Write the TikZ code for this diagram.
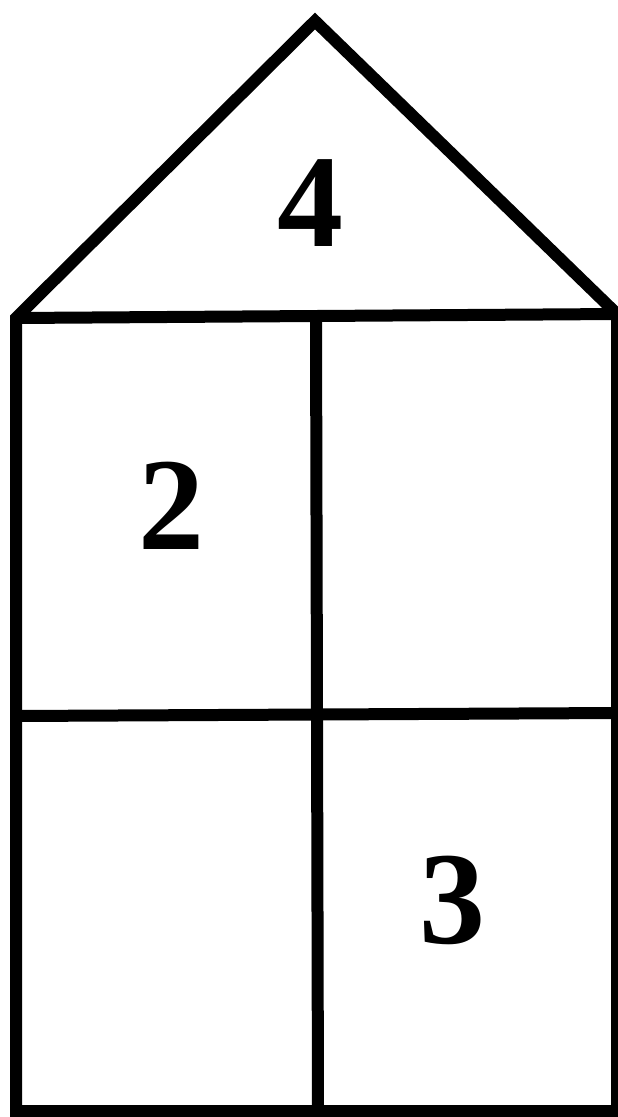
\documentclass[tikz,border=0pt]{standalone}
\usepackage{fontspec}
\setmainfont{Liberation Serif}
\begin{document}
\begin{tikzpicture}[x=1pt,y=-1pt,
  wall/.style={line width=12pt, line join=miter, black},
  digit/.style={inner sep=0pt, font=\fontsize{132}{132}\selectfont\bfseries}]
\useasboundingbox[fill=white] (0,0) rectangle (618,1117);
\coordinate (bl) at (16,1111);
\coordinate (ml) at (16,318);
\coordinate (apex) at (315,21);
\coordinate (mr) at (617,314);
\coordinate (br) at (617,1111);
\draw[wall] (bl) -- (ml) -- (apex) -- (mr) -- (br) -- cycle;
\draw[wall] (ml) -- (mr);
\draw[wall] (316,318) -- (318,1111);
\draw[wall] (16,716) -- (617,713);
\node[digit] (n4) at (310,203) {4};
\node[digit] (n2) at (171,506) {2};
\node[digit] (n3) at (452,900) {3};
\end{tikzpicture}
\end{document}
